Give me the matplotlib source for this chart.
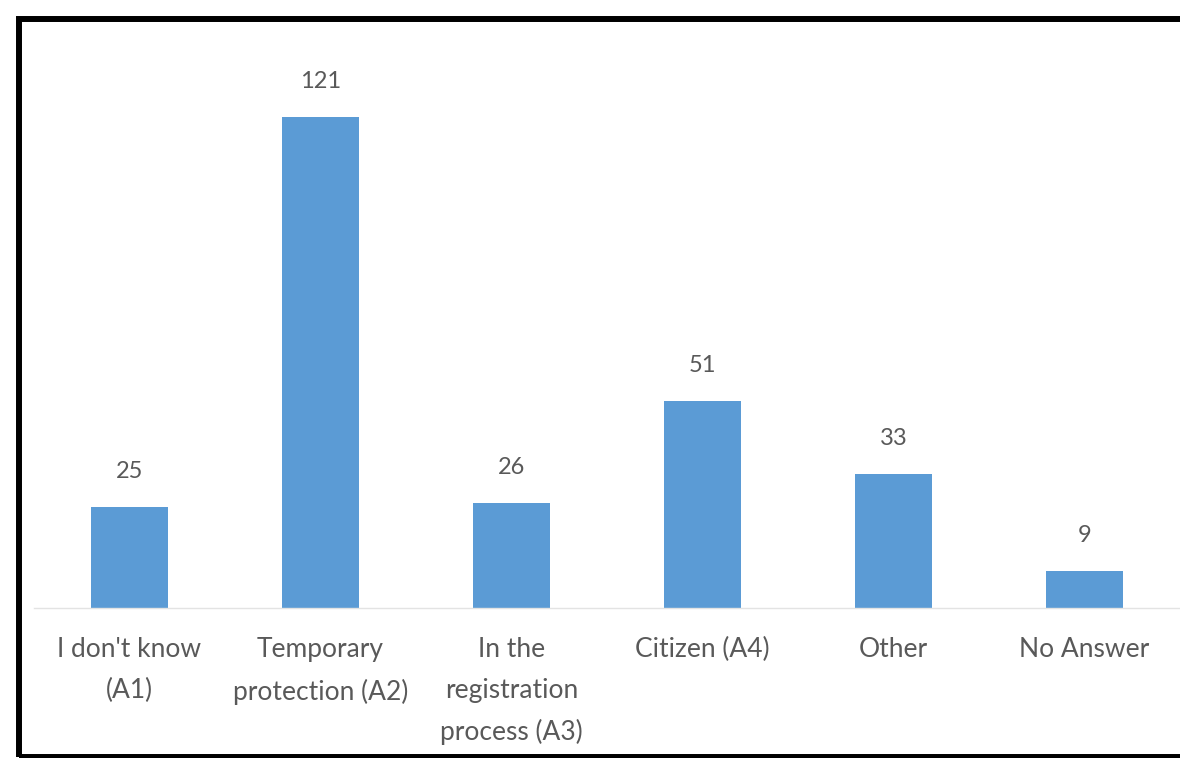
import matplotlib.pyplot as plt
from matplotlib.patches import Rectangle

plt.rcParams['font.family'] = ['Lato', 'DejaVu Sans']

categories = ["I don't know\n(A1)", "Temporary\nprotection (A2)",
              "In the\nregistration\nprocess (A3)", "Citizen (A4)",
              "Other", "No Answer"]
counts = [25, 121, 26, 51, 33, 9]

W, H = 1180, 758
fig = plt.figure(figsize=(W / 100, H / 100), dpi=100)
ax = fig.add_axes([34 / W, 150 / H, 1146 / W, 568 / H])

x = list(range(len(counts)))
bars = ax.bar(x, counts, width=0.4, color='#5B9BD5')
for b, v in zip(bars, counts):
    ax.annotate(str(v), (b.get_x() + b.get_width() / 2, v), xytext=(0, 18),
                textcoords='offset points', ha='center', va='bottom',
                fontsize=17, color='#595959')

ax.set_xlim(-0.5, 5.5)
ax.set_ylim(0, 140)
ax.set_xticks(x)
ax.set_xticklabels(categories, fontsize=19, color='#595959', linespacing=1.78)
ax.tick_params(axis='x', length=0, pad=21)
ax.set_yticks([])
for s in ['top', 'right', 'left']:
    ax.spines[s].set_visible(False)
ax.spines['bottom'].set_color('#E3E3E3')
ax.spines['bottom'].set_linewidth(1)

# black frame around the chart (right edge lies outside the image)
fig.add_artist(Rectangle((19 / W, 1 / H), 1.2, (H - 20) / H, fill=False,
                         edgecolor='black', lw=4.3, transform=fig.transFigure,
                         clip_on=False))

fig.savefig('out.png', dpi=100)
